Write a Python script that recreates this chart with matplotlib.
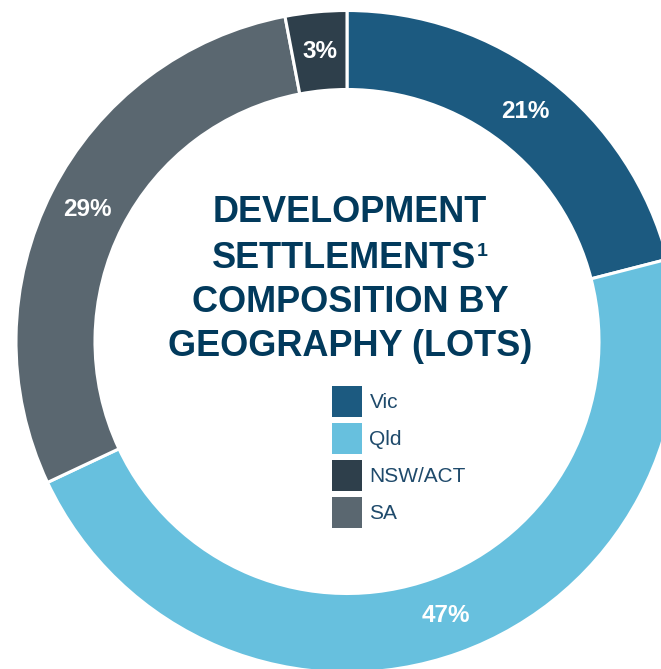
import matplotlib.pyplot as plt
from matplotlib.patches import Patch

regions = ['Vic', 'Qld', 'SA', 'NSW/ACT']
shares = [21, 47, 29, 3]
colors = ['#1c5a80', '#67c0de', '#5a6770', '#2e3f4b']
legend_order = ['Vic', 'Qld', 'NSW/ACT', 'SA']
title_lines = ['DEVELOPMENT', 'SETTLEMENTS', 'COMPOSITION BY', 'GEOGRAPHY (LOTS)']

W, H = 661, 669
fig = plt.figure(figsize=(W / 100, H / 100), dpi=100)
ax = fig.add_axes([0, 0, 1, 1])

# donut: centre and radius in pixel units (axes span the whole figure)
cx, cy = 347, H - 341.5
r_out = 331
r_in = 252

wedges, _, pcts = ax.pie(
    shares, colors=colors, startangle=90, counterclock=False,
    center=(cx, cy), radius=r_out,
    autopct='%d%%', pctdistance=(r_out + r_in) / 2 / r_out,
    wedgeprops=dict(width=r_out - r_in, edgecolor='white', linewidth=2.2),
    textprops=dict(color='white', fontsize=17.5, fontweight='bold',
                   family='Liberation Sans'))

ax.set_xlim(0, W)
ax.set_ylim(0, H)
ax.set_aspect('equal', adjustable='box')
ax.axis('off')

# title, one line at a time so the footnote mark can sit on line 2
title_font = dict(fontsize=26, fontweight='bold', color='#023a5c',
                  family='Liberation Sans')
line_y = [213, 258, 302, 346]
line_x = [350, 344, 350, 350]
lines = []
for txt, x, y in zip(title_lines, line_x, line_y):
    lines.append(ax.text(x, H - y, txt, ha='center', va='center', **title_font))
ax.annotate('1', xy=(1, 1), xycoords=lines[1], xytext=(0.5, -2),
            textcoords='offset points', ha='left', va='top',
            fontsize=14, fontweight='bold', color='#023a5c',
            family='Liberation Sans')

handles = [Patch(facecolor=colors[regions.index(n)], edgecolor='none')
           for n in legend_order]
leg = ax.legend(handles, legend_order, loc='upper left',
                bbox_to_anchor=(332 / W, 1 - 386 / H), frameon=False,
                prop=dict(family='Liberation Sans', size=15),
                handlelength=1.45, handleheight=1.9, labelspacing=0.3,
                handletextpad=0.35, borderpad=0, borderaxespad=0)
for t in leg.get_texts():
    t.set_color('#1f4a6b')

fig.savefig('out.png', dpi=100)
